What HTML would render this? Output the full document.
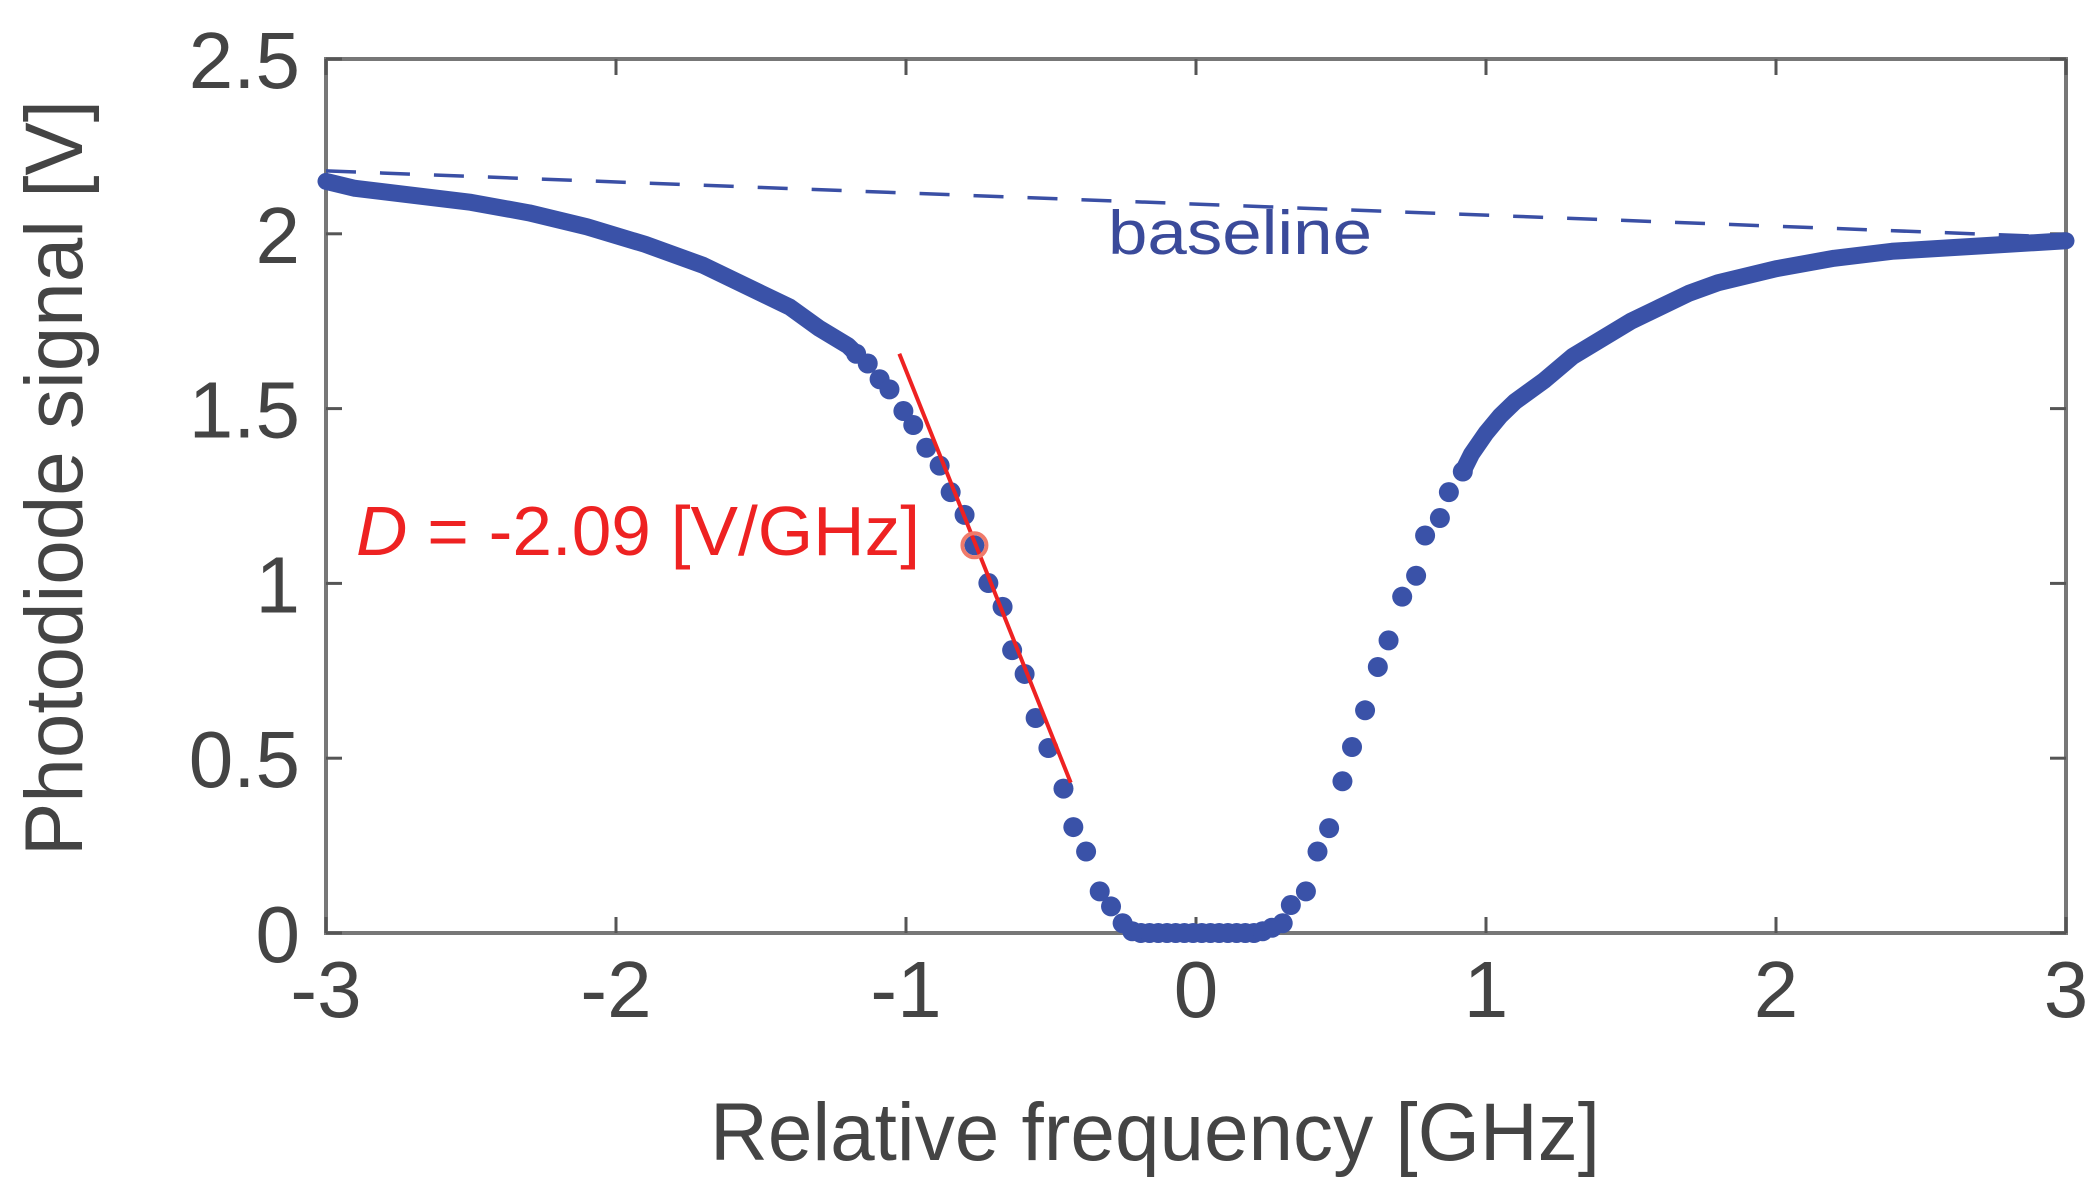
<!DOCTYPE html>
<html><head><meta charset="utf-8"><style>
html,body{margin:0;padding:0;background:#fff;}
svg{display:block;}
text{font-family:"Liberation Sans",sans-serif;}
</style></head><body>
<svg id="chart" width="2098" height="1188" viewBox="0 0 2098 1188" xmlns="http://www.w3.org/2000/svg">
<g id="plot"></g>
</svg>
<script>
const xTicks = [-3,-2,-1,0,1,2,3];
const yTicks = [0,0.5,1,1.5,2,2.5];
const yTickLabels = ["0","0.5","1","1.5","2","2.5"];
const denseLeftX = [-3,-2.9,-2.7,-2.5,-2.3,-2.1,-1.9,-1.7,-1.5,-1.4,-1.3,-1.2,-1.172];
const denseLeftY = [2.15,2.13,2.11,2.09,2.06,2.02,1.97,1.91,1.83,1.79,1.73,1.68,1.657];
const denseRightX = [0.92,0.95,1.0,1.05,1.1,1.2,1.3,1.4,1.5,1.6,1.7,1.8,2.0,2.2,2.4,2.6,2.8,3.0];
const denseRightY = [1.32,1.37,1.43,1.48,1.52,1.58,1.65,1.70,1.75,1.79,1.83,1.86,1.90,1.93,1.95,1.96,1.97,1.98];
const dotX = [-1.172,-1.132,-1.091,-1.057,-1.009,-0.975,-0.930,-0.884,-0.846,-0.798,-0.764,-0.716,-0.667,-0.634,-0.591,-0.553,-0.509,-0.457,-0.423,-0.379,-0.332,-0.293,-0.253,-0.22,-0.19,-0.16,-0.13,-0.10,-0.07,-0.04,-0.01,0.02,0.05,0.08,0.11,0.14,0.17,0.20,0.23,0.262,0.299,0.327,0.379,0.419,0.459,0.505,0.538,0.583,0.627,0.664,0.711,0.759,0.790,0.841,0.872,0.920];
const dotY = [1.657,1.629,1.584,1.555,1.493,1.453,1.388,1.337,1.261,1.196,1.109,1.001,0.933,0.809,0.741,0.615,0.529,0.413,0.303,0.233,0.119,0.076,0.028,0.005,0,0,0,0,0,0,0,0,0,0,0,0,0,0,0.005,0.015,0.028,0.08,0.119,0.233,0.30,0.434,0.532,0.637,0.761,0.837,0.962,1.022,1.137,1.187,1.261,1.32];
const baselineX = [-3,3];
const baselineY = [2.18,1.99];
const fitX = [-1.023,-0.432];
const fitY = [1.657,0.430];
const markX = [-0.764];
const markY = [1.109];

const L=326,R=2066,T=59,B=933,xmin=-3,xmax=3,ymin=0,ymax=2.5;
const sx=v=>L+(v-xmin)/(xmax-xmin)*(R-L);
const sy=v=>B-(v-ymin)/(ymax-ymin)*(B-T);
const NS="http://www.w3.org/2000/svg";
const g=document.getElementById('plot');
function mk(tag,attrs,parent){const e=document.createElementNS(NS,tag);for(const k in attrs)e.setAttribute(k,attrs[k]);(parent||g).appendChild(e);return e;}

const box=mk('rect',{x:L,y:T,width:R-L,height:B-T,fill:'none',stroke:'#777',"stroke-width":4});



xTicks.forEach((t,i)=>{
  const x=sx(t);
  const a=mk('line',{x1:x,y1:B,x2:x,y2:B-16,stroke:'#555',"stroke-width":3});
  
  
  const b=mk('line',{x1:x,y1:T,x2:x,y2:T+16,stroke:'#555',"stroke-width":3});
  
  
  const lb=mk('text',{x:x,y:1017,"text-anchor":"middle","font-size":80,fill:'#444'});
  lb.textContent=String(t);
  
  
});
yTicks.forEach((t,i)=>{
  const y=sy(t);
  const a=mk('line',{x1:L,y1:y,x2:L+16,y2:y,stroke:'#555',"stroke-width":3});
  
  
  const b=mk('line',{x1:R,y1:y,x2:R-16,y2:y,stroke:'#555',"stroke-width":3});
  
  
  const lb=mk('text',{x:300,y:y+29,"text-anchor":"end","font-size":80,fill:'#444'});
  lb.textContent=yTickLabels[i];
  
  
});

const bl=mk('line',{x1:sx(baselineX[0]),y1:sy(baselineY[0]),x2:sx(baselineX[1]),y2:sy(baselineY[1]),stroke:'#3a4fa5',"stroke-width":3.5,"stroke-dasharray":"30 24"});


const blt=mk('text',{x:1108,y:254,"font-size":62,fill:'#3a4a9a',textLength:264,lengthAdjust:'spacingAndGlyphs'});
blt.textContent='baseline';



[[denseLeftX,denseLeftY],[denseRightX,denseRightY]].forEach(([xs,ys])=>{
  const p=mk('polyline',{points:xs.map((x,i)=>sx(x)+','+sy(ys[i])).join(' '),fill:'none',stroke:'#3a52a8',"stroke-width":17,"stroke-linejoin":"round","stroke-linecap":"round"});
  
  
});
dotX.forEach((x,i)=>{
  const c=mk('circle',{cx:sx(x),cy:sy(dotY[i]),r:10,fill:'#3a52a8'});
  
  
});

const fl=mk('line',{x1:sx(fitX[0]),y1:sy(fitY[0]),x2:sx(fitX[1]),y2:sy(fitY[1]),stroke:'#ee2222',"stroke-width":4});


const mc=mk('circle',{cx:sx(markX[0]),cy:sy(markY[0]),r:12,fill:'none',stroke:'#f07a6a',"stroke-width":4});


</script>
<svg style="position:absolute;left:0;top:0" width="2098" height="1188">
<text x="356" y="555" font-size="70" fill="#ee2222" textLength="564" lengthAdjust="spacingAndGlyphs" style="font-family:'Liberation Sans',sans-serif"><tspan font-style="italic">D</tspan> = -2.09 [V/GHz]</text>
<text x="1155" y="1160" font-size="82" fill="#444" text-anchor="middle" textLength="890" lengthAdjust="spacingAndGlyphs" style="font-family:'Liberation Sans',sans-serif">Relative frequency [GHz]</text>
<text transform="translate(82,478) rotate(-90)" font-size="82" fill="#444" text-anchor="middle" textLength="756" lengthAdjust="spacingAndGlyphs" style="font-family:'Liberation Sans',sans-serif">Photodiode signal [V]</text>
</svg>
</body></html>
